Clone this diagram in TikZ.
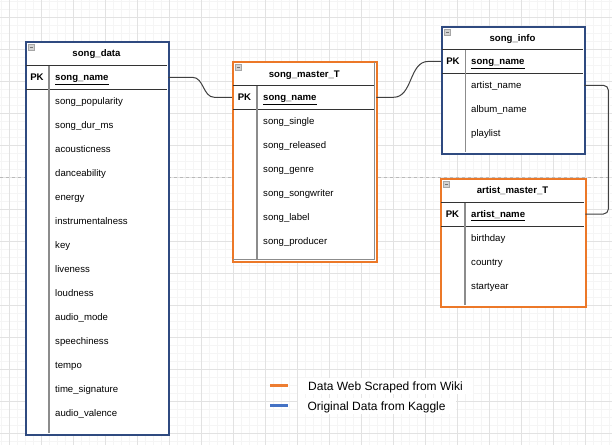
\documentclass[tikz,border=0pt]{standalone}
\usepackage{fontspec}
\setmainfont{Liberation Sans}

\definecolor{tblblue}{RGB}{47,74,128}
\definecolor{tblorange}{RGB}{236,120,40}
\definecolor{keyorange}{RGB}{237,125,49}
\definecolor{keyblue}{RGB}{68,114,196}
\definecolor{linkgray}{RGB}{64,64,64}
\definecolor{gridmajor}{RGB}{226,226,226}
\definecolor{gridminor}{RGB}{245,245,245}

\tikzset{
  tbl/.style={rectangle, draw=#1, fill=white, line width=2pt, anchor=north west, inner sep=0pt},
  sepline/.style={draw=black!80, line width=1pt},
  divline/.style={draw=black!45, line width=1.6pt},
  title/.style={font=\fontsize{9.6}{11}\selectfont\bfseries, text height=7pt, text depth=0pt, inner sep=0pt},
  pkcell/.style={title, minimum width=#1},
  field/.style={font=\fontsize{9.6}{11}\selectfont, text height=7pt, text depth=0pt, inner sep=0pt, anchor=west},
  keyfield/.style={field, font=\fontsize{9.6}{11}\selectfont\bfseries, text width=#1},
  iconbox/.style={rectangle, draw=gray!70, fill=gray!35, minimum size=6pt, inner sep=0pt,
    path picture={\draw[black!55, line width=0.7pt] ([xshift=1.3pt]path picture bounding box.west) -- ([xshift=-1.3pt]path picture bounding box.east);}},
  link/.style={draw=linkgray, line width=1pt},
  swatch/.style={rectangle, fill=#1, minimum width=18pt, minimum height=3pt, inner sep=0pt},
  legtext/.style={font=\fontsize{12}{14}\selectfont, fill=white, anchor=west, inner xsep=10pt, inner ysep=4pt, text height=8.6pt, text depth=0pt}
}

\begin{document}
\begin{tikzpicture}[x=1pt, y=-1pt]
        \useasboundingbox (0,0) rectangle (612,445);
        \fill[white] (0,0) rectangle (612,445);

        % background grid
        \foreach \gx in {1,9,...,609} \draw[gridminor] (\gx,0) -- (\gx,445);
        \foreach \gy in {1,9,...,441} \draw[gridminor] (0,\gy) -- (612,\gy);
        \foreach \gx in {9,41,...,585} \draw[gridmajor] (\gx,0) -- (\gx,445);
        \foreach \gy in {17,49,...,433} \draw[gridmajor] (0,\gy) -- (612,\gy);
        \draw[gray!55, dash pattern=on 3pt off 3pt] (0,177.5) -- (612,177.5);

        % song_data
        \node[tbl=tblblue, minimum width=143pt, minimum height=393pt] (songdata) at (25,41) {};
        \draw[sepline] (26,65.5) -- (167,65.5);
        \draw[sepline] (26,89) -- (167,89);
        \draw[divline] (49,66) -- (49,433);
        \node[iconbox] (songdata-icon) at (31.5,47.5) {};
        \node[title] (songdata-title) at (96.5,53.3) {song\_data};
        \node[pkcell=24pt] (data-key) at (37,77.3) {PK};
        \node[keyfield=113pt] (data-pk) at (55,77.3) {\underline{song\_name}};
        \foreach \f [count=\i from 0] in {song\_popularity, song\_dur\_ms, acousticness, danceability, energy, instrumentalness, key, liveness, loudness, audio\_mode, speechiness, tempo, time\_signature, audio\_valence}
            \node[field] (data-f\i) at (55,101.3+24*\i) {\f};

        % song_master_T
        \node[tbl=tblorange, minimum width=144pt, minimum height=200pt] (songmaster) at (232,61) {};
        \draw[sepline] (233,85.5) -- (375,85.5);
        \draw[sepline] (233,109) -- (375,109);
        \draw[divline] (257,86) -- (257,260);
        \draw[divline, line width=1.2pt] (374.4,62) -- (374.4,259.4) -- (233,259.4);
        \node[iconbox] (songmaster-icon) at (238.5,67.5) {};
        \node[title] (songmaster-title) at (304.3,73.5) {song\_master\_T};
        \node[pkcell=25pt] (master-key) at (244.5,97.3) {PK};
        \node[keyfield=113pt] (master-pk) at (263,97.3) {\underline{song\_name}};
        \foreach \f [count=\i from 0] in {song\_single, song\_released, song\_genre, song\_songwriter, song\_label, song\_producer}
            \node[field] (master-f\i) at (263,121+24*\i) {\f};

        % song_info
        \node[tbl=tblblue, minimum width=143pt, minimum height=127pt] (songinfo) at (441,26) {};
        \draw[sepline] (442,49.5) -- (583,49.5);
        \draw[sepline] (442,73.3) -- (583,73.3);
        \draw[divline] (465.5,50) -- (465.5,152);
        \node[iconbox] (songinfo-icon) at (447.5,32.5) {};
        \node[title] (songinfo-title) at (512.5,37.5) {song\_info};
        \node[pkcell=24pt] (info-key) at (453,61.4) {PK};
        \node[keyfield=113pt] (info-pk) at (471,61.4) {\underline{song\_name}};
        \node[field, text width=113pt] (info-artist) at (471,85.3) {artist\_name};
        \node[field] (info-album) at (471,109.3) {album\_name};
        \node[field] (info-list) at (471,133.3) {playlist};

        % artist_master_T
        \node[tbl=tblorange, minimum width=145pt, minimum height=128pt] (artistmaster) at (440,178) {};
        \draw[sepline] (441,202) -- (584,202);
        \draw[sepline] (441,226) -- (584,226);
        \draw[divline] (465,202.5) -- (465,305);
        \node[iconbox] (artistmaster-icon) at (446.5,184.5) {};
        \node[title] (artistmaster-title) at (512.5,190) {artist\_master\_T};
        \node[pkcell=25pt] (artist-key) at (452.5,214) {PK};
        \node[keyfield=114pt] (artist-pk) at (471,214) {\underline{artist\_name}};
        \node[field] (artist-birth) at (471,238) {birthday};
        \node[field] (artist-country) at (471,262) {country};
        \node[field] (artist-start) at (471,286) {startyear};

        % links
        \draw[link] (data-pk.east) -- ++(24,0) to[out=0, in=180] ++(22,20) -- (master-key.west);
        \draw[link] (master-pk.east) -- ++(17,0) to[out=0, in=180] ++(35,-35.9) -- (info-key.west);
        \draw[link, rounded corners=5pt] (info-artist.east) -- ++(24,0) |- (artist-pk.east);

        % legend
        \node[swatch=keyorange] (key-web) at (279,385.5) {};
        \node[swatch=keyblue] (key-kaggle) at (279,405.5) {};
        \node[legtext] (lbl-web) at (298,385.8) {Data Web Scraped from Wiki};
        \node[legtext] (lbl-kaggle) at (297.3,405.8) {Original Data from Kaggle};
    \end{tikzpicture}
\end{document}
